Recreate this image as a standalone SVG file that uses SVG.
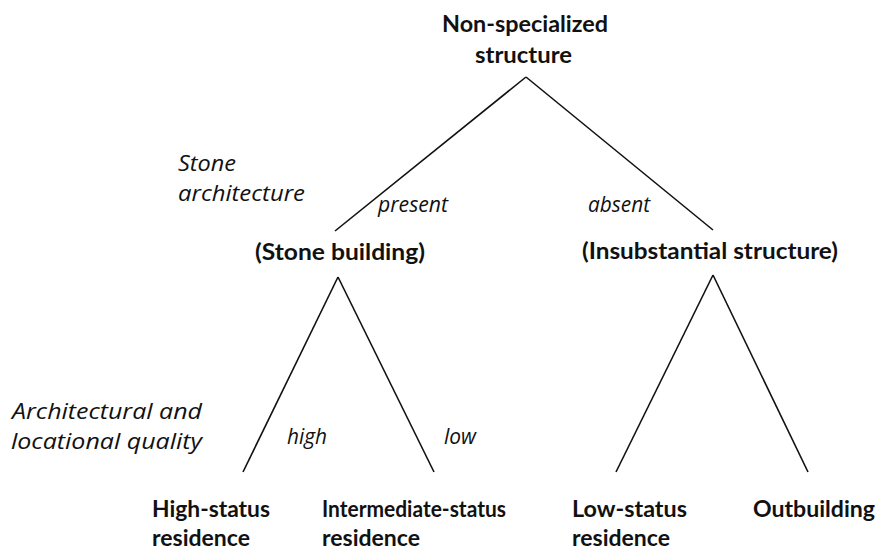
<svg xmlns="http://www.w3.org/2000/svg" width="883" height="550" viewBox="0 0 883 550">
<style>
.n{font-family:Lato,"Open Sans","Liberation Sans",sans-serif;font-weight:bold;font-size:23px;fill:#111}
.i{font-family:"Open Sans",Lato,"Liberation Sans",sans-serif;font-style:italic;font-size:22px;fill:#111}
.c line{stroke:#111;stroke-width:1.6}
</style>
<rect width="883" height="550" fill="#fff"/>
<g id="root"><text class="n" x="442" y="32" textLength="166" lengthAdjust="spacingAndGlyphs">Non-specialized</text><text class="n" x="475" y="63" textLength="97" lengthAdjust="spacingAndGlyphs">structure</text></g>
<g id="stone"><text class="n" x="255" y="260" textLength="170" lengthAdjust="spacingAndGlyphs">(Stone building)</text></g>
<g id="insub"><text class="n" x="582" y="259" textLength="256" lengthAdjust="spacingAndGlyphs">(Insubstantial structure)</text></g>
<g id="high"><text class="n" x="152" y="517" textLength="118" lengthAdjust="spacingAndGlyphs">High-status</text><text class="n" x="152" y="546" textLength="98" lengthAdjust="spacingAndGlyphs">residence</text></g>
<g id="inter"><text class="n" x="322" y="517" textLength="184" lengthAdjust="spacingAndGlyphs">Intermediate-status</text><text class="n" x="322" y="546" textLength="98" lengthAdjust="spacingAndGlyphs">residence</text></g>
<g id="low"><text class="n" x="572" y="517" textLength="115" lengthAdjust="spacingAndGlyphs">Low-status</text><text class="n" x="572" y="546" textLength="98" lengthAdjust="spacingAndGlyphs">residence</text></g>
<g id="out"><text class="n" x="753" y="517" textLength="122" lengthAdjust="spacingAndGlyphs">Outbuilding</text></g>
<g id="crit1"><text class="i" x="178" y="171" textLength="58" lengthAdjust="spacingAndGlyphs">Stone</text><text class="i" x="178" y="201" textLength="127" lengthAdjust="spacingAndGlyphs">architecture</text></g>
<g id="crit2"><text class="i" x="12" y="419" textLength="190" lengthAdjust="spacingAndGlyphs">Architectural and</text><text class="i" x="11" y="449" textLength="191" lengthAdjust="spacingAndGlyphs">locational quality</text></g>
<g class="c" id="connectors">
<line x1="526" y1="77" x2="335" y2="231"/>
<line x1="526" y1="77" x2="713" y2="230"/>
<line x1="338" y1="277" x2="243" y2="472"/>
<line x1="338" y1="277" x2="434" y2="472"/>
<line x1="713" y1="275" x2="616" y2="472"/>
<line x1="713" y1="275" x2="808" y2="472"/>
<text class="i" x="378" y="212" textLength="70" lengthAdjust="spacingAndGlyphs">present</text>
<text class="i" x="588" y="212" textLength="62" lengthAdjust="spacingAndGlyphs">absent</text>
<text class="i" x="287" y="444" textLength="40" lengthAdjust="spacingAndGlyphs">high</text>
<text class="i" x="444" y="444" textLength="32" lengthAdjust="spacingAndGlyphs">low</text>
</g>
</svg>
